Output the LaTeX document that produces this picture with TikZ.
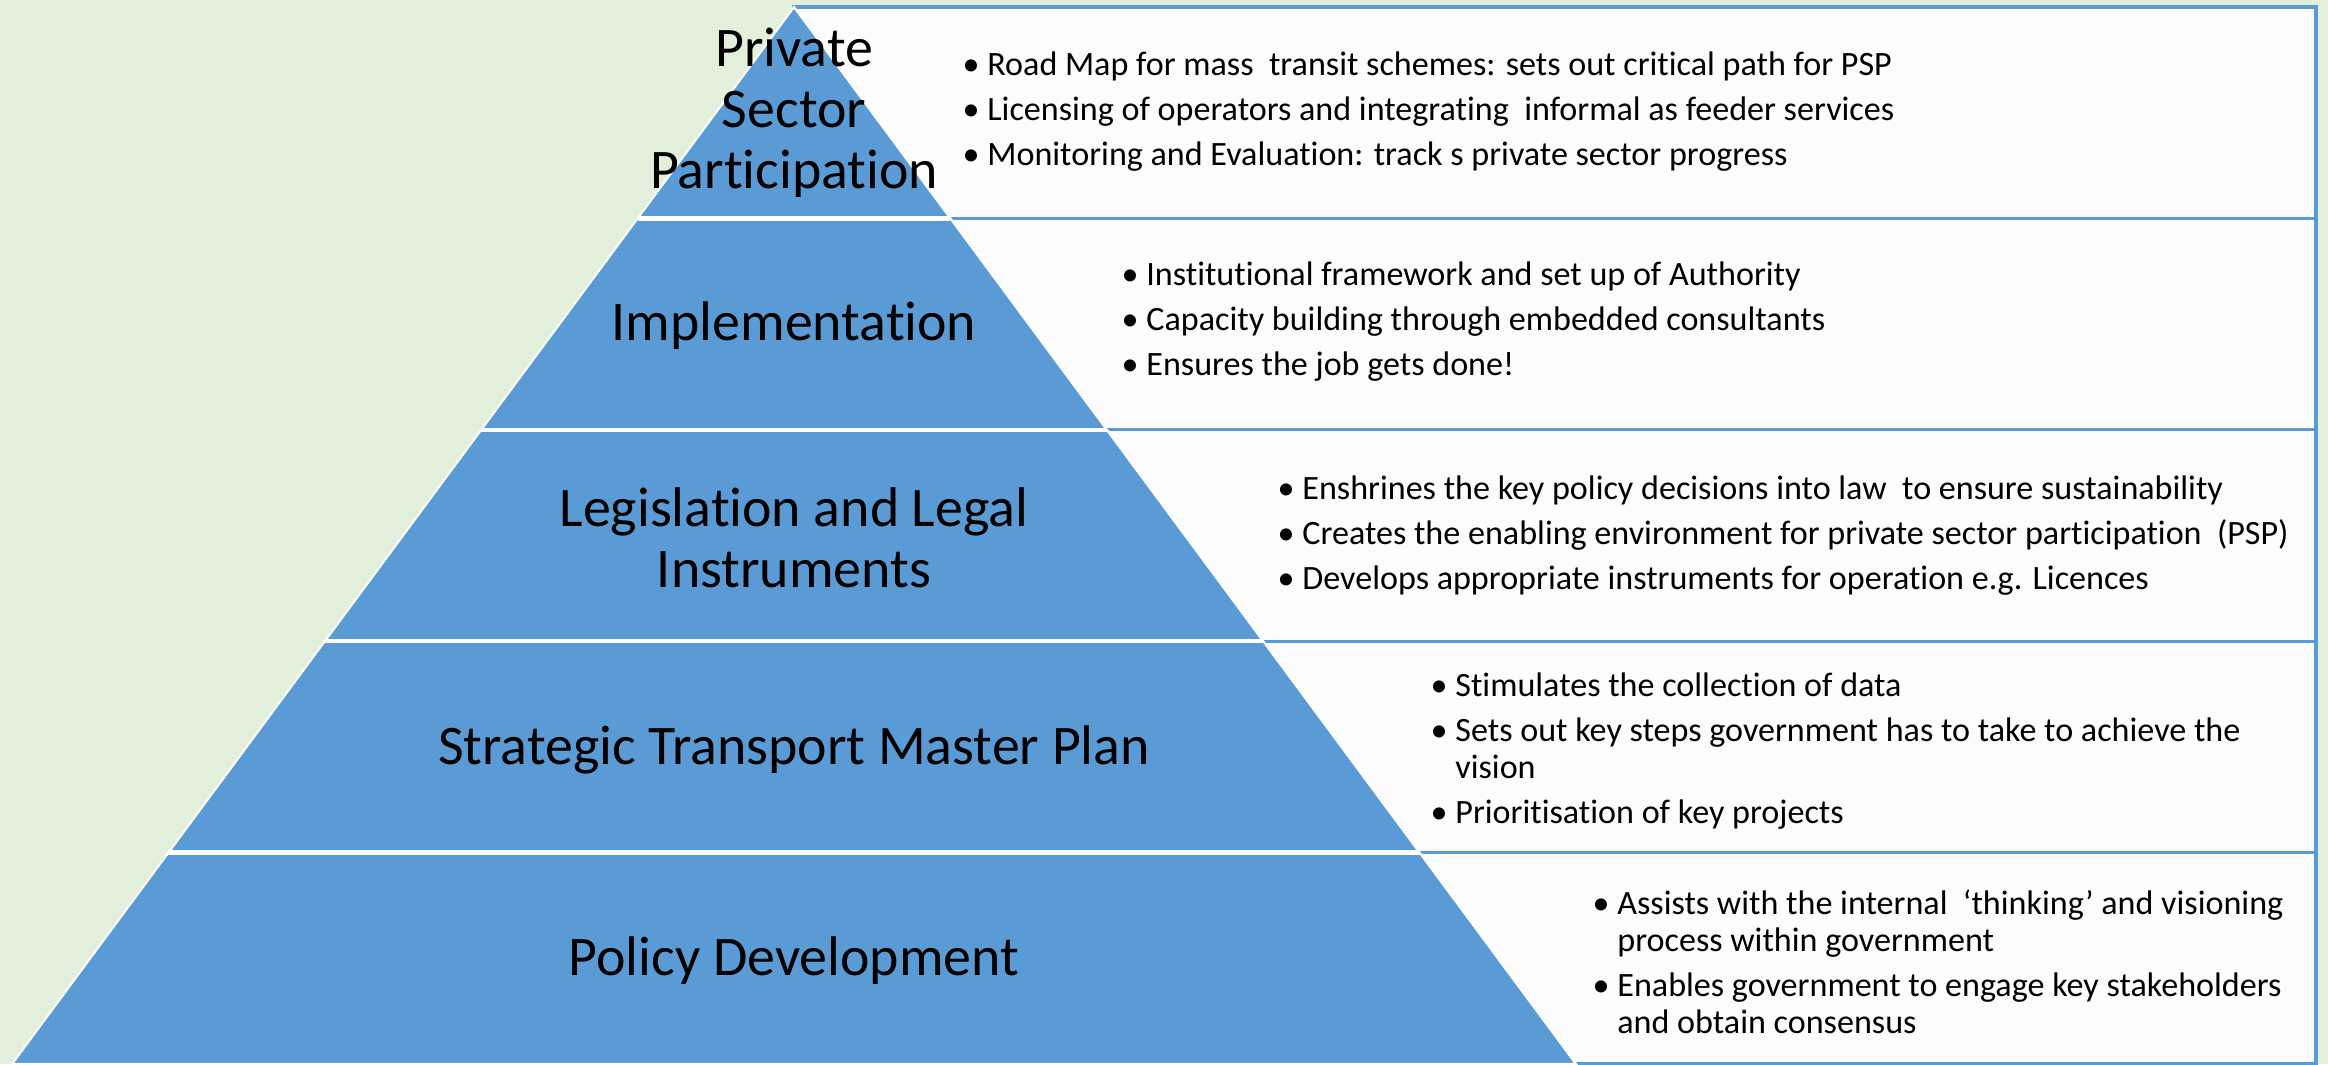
\documentclass[tikz,border=0pt]{standalone}
\usepackage{fontspec}
\setmainfont{Carlito}[Ligatures=NoCommon]
\usetikzlibrary{calc}
\definecolor{fond}{HTML}{E2EFDA}
\definecolor{bleu}{HTML}{5B9BD5}
\definecolor{cadre}{HTML}{FCFCFC}
\newcommand{\ret}{\hphantom{• }}

\begin{document}
\begin{tikzpicture}[x=0.1mm, y=-0.1mm,
  titre/.style={align=center, font=\fontsize{15.9}{17.4}\selectfont, inner sep=0pt},
  liste/.style={align=left, anchor=west, font=\fontsize{9.7}{10.6}\selectfont, inner sep=0pt},
  case/.style={fill=cadre, draw=bleu, line width=0.9pt}]
% Fond
\fill[fond] (0,0) rectangle (2328,1064);
\useasboundingbox (0,0) rectangle (2328,1064);
% Cadres
\foreach \i in {0,...,4}
  \draw[case] (794,{7+211.4*\i}) rectangle (2316,{7+211.4*(\i+1)});
% Pyramide
\coordinate (S) at (794,7);
\coordinate (G) at (12,1064);
\coordinate (D) at (1576,1064);
\fill[bleu, draw=white, line width=0.6pt] (S) -- (G) -- (D) -- cycle;
\foreach \i in {1,...,4}
  \draw[white, line width=1.2pt] ($(S)!\i/5!(G)$) -- ($(S)!\i/5!(D)$);
% Niveaux
\node[titre] (psp) at (794,113) {Private\\Sector\\Participation};
\node[titre] (impl) at (794,326) {Implementation};
\node[titre] (legis) at (794,538) {Legislation and Legal\\Instruments};
\node[titre] (plan) at (794,750) {Strategic Transport Master Plan};
\node[titre] (pol) at (794,961) {Policy Development};
% Points
\node[liste] (lpsp) at (962,112) {• Road Map for mass\ \ transit schemes: sets out critical path for PSP\\[2.2pt]
  • Licensing of operators and integrating\ \ informal as feeder services\\[2.2pt]
  • Monitoring and Evaluation: track s private sector progress};
\node[liste] (limpl) at (1121,322) {• Institutional framework and set up of Authority\\[2.2pt]
  • Capacity building through embedded consultants\\[2.2pt]
  • Ensures the job gets done!};
\node[liste] (llegis) at (1277,536) {• Enshrines the key policy decisions into law\ \ to ensure sustainability\\[2.2pt]
  • Creates the enabling environment for private sector participation\ \ (PSP)\\[2.2pt]
  • Develops appropriate instruments for operation e.g. Licences};
\node[liste] (lplan) at (1430,751) {• Stimulates the collection of data\\[2.2pt]
  • Sets out key steps government has to take to achieve the\\
  \ret vision\\[2.2pt]
  • Prioritisation of key projects};
\node[liste] (lpol) at (1592,962) {• Assists with the internal\ \ ‘thinking’ and visioning\\
  \ret process within government\\[2.2pt]
  • Enables government to engage key stakeholders\\
  \ret and obtain consensus};
\end{tikzpicture}
\end{document}
